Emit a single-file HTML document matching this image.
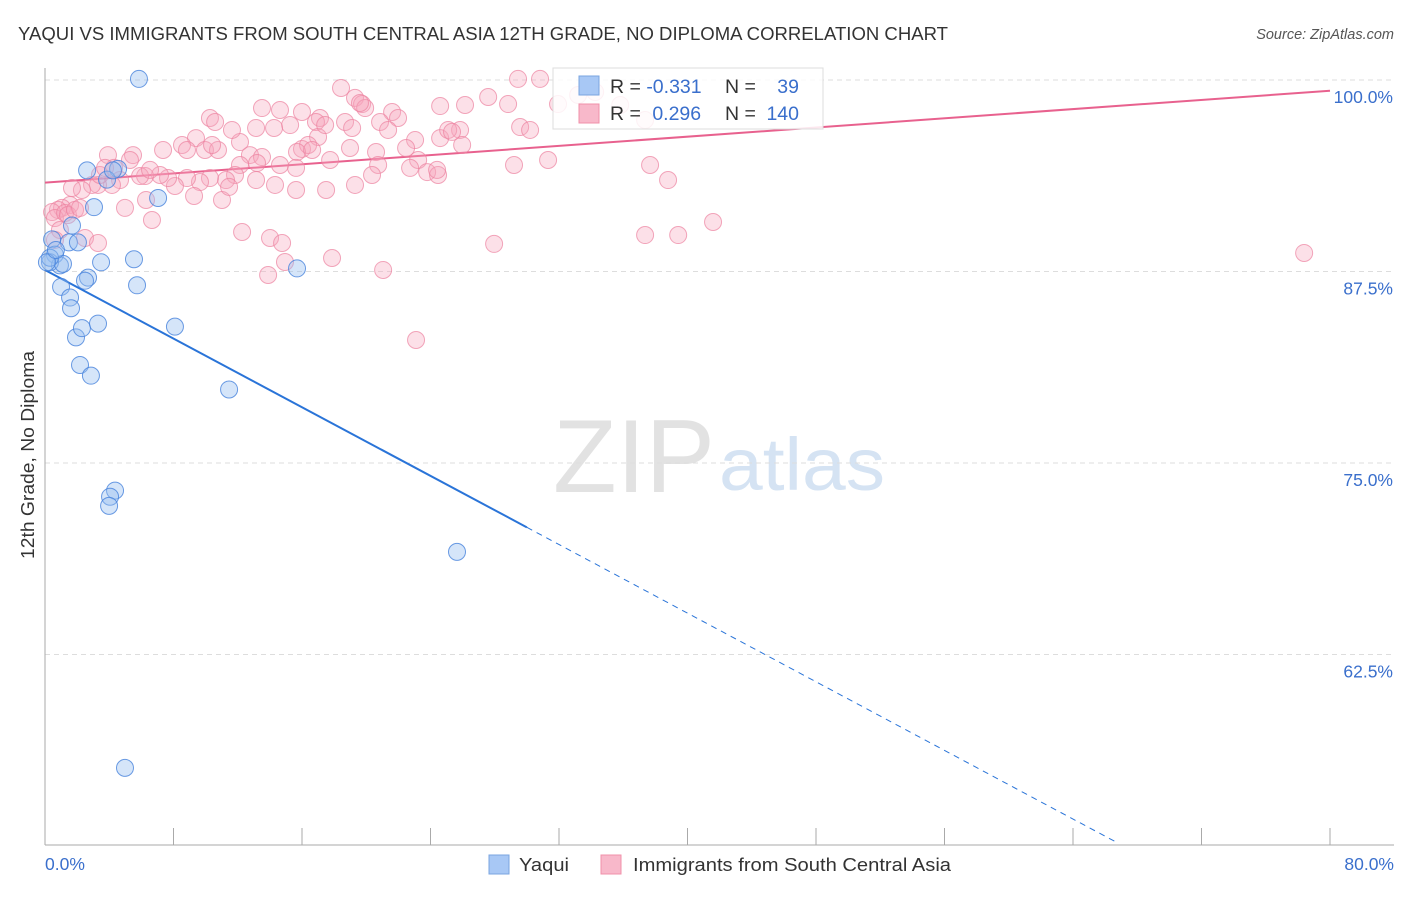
<!DOCTYPE html>
<html><head><meta charset="utf-8"><style>
body{margin:0;background:#fff;font-family:"Liberation Sans",sans-serif;}
svg text{font-family:"Liberation Sans",sans-serif;}
</style></head><body>
<svg id="chart" width="1406" height="892" viewBox="0 0 1406 892" xmlns="http://www.w3.org/2000/svg">
<text x="18" y="40" font-size="18" fill="#333" textLength="930" lengthAdjust="spacingAndGlyphs">YAQUI VS IMMIGRANTS FROM SOUTH CENTRAL ASIA 12TH GRADE, NO DIPLOMA CORRELATION CHART</text>
<text x="1394" y="39" font-size="14.5" fill="#555" text-anchor="end" font-style="italic">Source: ZipAtlas.com</text>
<g>
<text x="553" y="492" font-size="104" fill="#e2e2e2" font-family="Liberation Serif,serif" textLength="162" lengthAdjust="spacingAndGlyphs">ZIP</text>
<text x="719" y="490" font-size="74" fill="#d5e3f3" textLength="166" lengthAdjust="spacingAndGlyphs">atlas</text>
</g>
<g id="grid"></g>
<g id="axes"></g>
<g id="lines"></g>
<g id="points"></g>
<text transform="translate(34,455) rotate(-90)" font-size="18" fill="#333" text-anchor="middle" textLength="208" lengthAdjust="spacingAndGlyphs">12th Grade, No Diploma</text>
<g>
<rect x="553" y="68" width="270" height="61" fill="#fff" fill-opacity="0.85" stroke="#ddd"/>
<rect x="579" y="76" width="20" height="19" fill="#a8c8f5" stroke="#7aa5e0"/>
<rect x="579" y="104" width="20" height="19" fill="#f8b8ca" stroke="#f090aa"/>
<text x="610" y="93" font-size="19.5" fill="#333">R = <tspan fill="#3a6fcc">-0.331</tspan></text>
<text x="725" y="93" font-size="19.5" fill="#333">N = </text><text x="799" y="93" font-size="19.5" fill="#3a6fcc" text-anchor="end">39</text>
<text x="610" y="120" font-size="19.5" fill="#333">R = <tspan fill="#3a6fcc" dx="6">0.296</tspan></text>
<text x="725" y="120" font-size="19.5" fill="#333">N = </text><text x="799" y="120" font-size="19.5" fill="#3a6fcc" text-anchor="end">140</text>
</g>
<g>
<rect x="489" y="855" width="20" height="19" fill="#a8c8f5" stroke="#7aa5e0"/>
<text x="519" y="871" font-size="18.5" fill="#333" textLength="50" lengthAdjust="spacingAndGlyphs">Yaqui</text>
<rect x="601" y="855" width="20" height="19" fill="#f8b8ca" stroke="#f090aa"/>
<text x="633" y="871" font-size="18.5" fill="#333" textLength="318" lengthAdjust="spacingAndGlyphs">Immigrants from South Central Asia</text>
</g>
</svg>
<script>
const yTicks=[100,87.5,75,62.5];
const yTickLabels=["100.0%","87.5%","75.0%","62.5%"];
const xEdgeLabels=["0.0%","80.0%"];
const yaquiX=[5.85,2.62,4.55,3.05,7.04,1.49,1.68,0.44,0.62,0.93,0.31,1.12,2.68,3.49,5.54,1.0,1.56,1.62,5.73,15.69,1.93,2.30,3.30,8.09,2.18,2.86,11.46,4.36,4.05,3.99,25.65,4.98,0.31,0.12,2.05,0.68,2.49,3.86,4.23];
const yaquiY=[100.07,94.1,94.2,91.7,92.3,89.4,90.5,89.6,88.6,87.9,88.1,88.0,87.1,88.1,88.3,86.5,85.8,85.1,86.6,87.7,83.2,83.8,84.1,83.9,81.4,80.7,79.8,73.2,72.8,72.2,69.2,55.1,88.4,88.1,89.4,88.9,86.9,93.5,94.1];
const immX=[29.45,30.82,18.43,19.30,19.74,19.93,21.61,21.98,20.86,21.36,24.60,26.15,27.59,28.83,31.94,33.19,34.25,35.81,37.36,29.58,30.20,25.84,24.60,25.10,23.04,23.23,23.79,24.47,22.73,20.61,20.74,20.36,18.99,19.30,18.68,19.12,17.12,16.87,17.00,15.26,14.26,13.14,12.14,10.27,10.59,9.40,8.53,7.35,8.84,9.96,10.77,12.76,13.51,13.20,12.14,11.83,11.27,10.27,9.65,8.84,8.09,7.66,7.16,6.23,5.92,6.54,5.48,5.29,3.92,4.30,4.67,4.17,3.30,2.93,2.30,1.68,1.56,1.06,0.81,0.44,0.62,1.25,1.43,1.87,2.18,0.93,0.62,2.49,3.30,4.98,6.66,6.29,9.28,11.02,11.46,12.27,14.01,14.76,13.89,14.94,17.87,21.05,23.10,27.96,29.20,31.32,37.67,38.79,37.36,39.42,41.59,78.39,16.00,16.38,15.69,16.63,15.63,14.63,17.75,17.50,15.63,22.48,24.41,25.97,25.34,14.32,13.14,14.63,16.00,17.44,13.51,19.61,10.40,11.64,3.42,3.74];
const immY=[100.07,100.07,99.48,98.83,98.43,98.17,97.91,97.52,97.26,96.74,98.30,98.37,98.89,98.43,98.43,99.02,99.22,98.37,97.39,96.93,96.74,96.74,96.21,96.74,96.08,94.78,93.99,93.80,94.26,95.30,94.45,93.80,95.56,93.15,97.26,96.87,97.52,97.26,96.28,97.06,96.87,96.87,95.95,97.52,97.26,96.21,95.76,95.43,95.43,95.43,95.43,95.10,94.97,94.58,94.45,93.80,93.47,93.60,93.34,93.60,93.08,93.60,93.80,93.73,93.73,94.13,95.10,94.78,95.10,94.26,93.47,93.15,93.15,93.15,92.82,92.95,91.84,91.65,91.52,91.38,90.99,91.32,91.19,91.52,91.65,90.21,89.56,89.69,89.36,91.65,90.86,92.17,92.43,92.17,93.02,90.08,89.69,89.36,87.27,88.12,88.38,87.60,83.03,89.30,94.45,94.78,94.45,93.47,89.88,89.88,90.73,88.71,95.50,95.76,95.30,95.43,94.26,94.45,94.78,92.82,92.82,95.56,94.13,95.76,96.61,93.15,93.47,98.04,97.91,97.06,98.17,98.50,95.76,96.74,93.80,94.26];
const yaquiTrend=[87.6,-0.56];
const immTrend=[93.3,0.075];
const X0=45,X1=1330,Y100=80,PXPER=15.32;
const sx=v=>X0+v*(X1-X0)/80;
const sy=v=>Y100+(100-v)*PXPER;
const NS='http://www.w3.org/2000/svg';
function mk(tag,attrs,parent){const e=document.createElementNS(NS,tag);for(const k in attrs)e.setAttribute(k,attrs[k]);parent.appendChild(e);return e;}
const grid=document.getElementById('grid'),axes=document.getElementById('axes'),lines=document.getElementById('lines'),pts=document.getElementById('points');
yTicks.forEach((t,i)=>{
 const l=mk('line',{x1:X0,x2:1394,y1:sy(t),y2:sy(t),stroke:'#ddd','stroke-dasharray':'5,4'},grid);
 
 
 const tx=mk('text',{x:1393,y:sy(t)+23,'font-size':17.5,fill:'#3a6fcc','text-anchor':'end'},axes);
 tx.textContent=yTickLabels[i];
 
 
});
const ax=mk('line',{x1:X0,x2:X0,y1:68,y2:845,stroke:'#aaa'},axes);


const bx=mk('line',{x1:X0,x2:1394,y1:845,y2:845,stroke:'#aaa'},axes);


for(let i=0;i<=10;i++){
 const t=mk('line',{x1:sx(i*8),x2:sx(i*8),y1:828,y2:845,stroke:'#aaa'},axes);
 
 
}
[[0,'start',45],[80,'end',1394]].forEach((d,i)=>{
 const t=mk('text',{x:d[2],y:870,'font-size':17.5,fill:'#3a6fcc','text-anchor':d[1]},axes);
 t.textContent=xEdgeLabels[i];
 
 
});
function dot(x,y,fill,stroke,name){
 const c=mk('circle',{cx:sx(x),cy:sy(y),r:8.5,fill:fill,stroke:stroke,'stroke-width':1},pts);
 
 
}
immX.forEach((x,i)=>dot(x,immY[i],'rgba(246,165,190,0.35)','rgba(236,130,160,0.7)','immigrants-point'));
yaquiX.forEach((x,i)=>dot(x,yaquiY[i],'rgba(150,190,240,0.4)','rgba(70,130,220,0.8)','yaqui-point'));
const bf=x=>yaquiTrend[0]+yaquiTrend[1]*x, pf=x=>immTrend[0]+immTrend[1]*x;
const l1=mk('line',{x1:sx(0),y1:sy(bf(0)),x2:sx(30),y2:sy(bf(30)),stroke:'#2a74d8','stroke-width':2},lines);


const l2=mk('line',{x1:sx(30),y1:sy(bf(30)),x2:sx(66.6),y2:sy(bf(66.6)),stroke:'#2a74d8','stroke-width':1,'stroke-dasharray':'6,5'},lines);


const l3=mk('line',{x1:sx(0),y1:sy(pf(0)),x2:sx(80),y2:sy(pf(80)),stroke:'#e8618e','stroke-width':2},lines);


</script>
</body></html>
